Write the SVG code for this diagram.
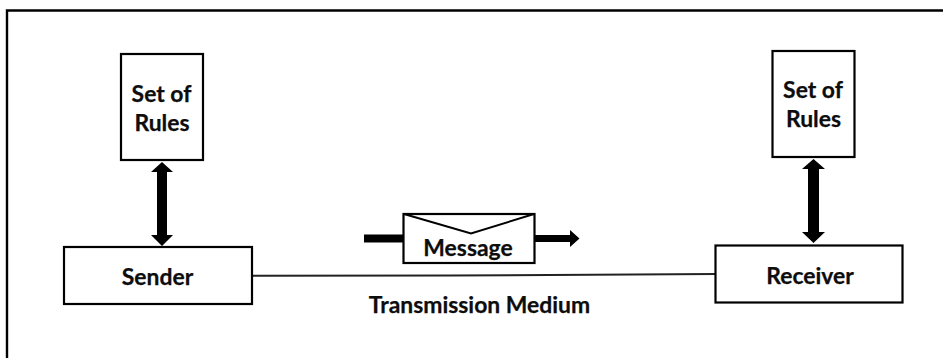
<svg xmlns="http://www.w3.org/2000/svg" width="943" height="358" viewBox="0 0 943 358">
<style>
.box{fill:#fff;stroke:#000;stroke-width:2.2}
.t{font-family:"Lato","Liberation Sans",sans-serif;font-weight:700;font-size:22.9px;fill:#0d0d0d;stroke:#0d0d0d;stroke-width:0.25;text-anchor:middle}
.arrow{fill:#000;stroke:none}
</style>
<rect width="943" height="358" fill="#fff"/>
<polyline id="frame" points="7,358 7,10.500 943,10.500" fill="none" stroke="#000" stroke-width="2.4"/>
<g id="connectors">
<polyline points="252,275.700 450,275.500 716,274" fill="none" stroke="#222" stroke-width="2"/>
<polygon class="arrow" points="162,162 173,172 167,172 167,235 173,235 162,246 151,235 157,235 157,172 151,172"/>
<polygon class="arrow" points="813.500,159 825,169 819,169 819,232 825,232 813.500,243 802,232 808,232 808,169 802,169"/>
<rect class="arrow" x="364" y="234.500" width="40" height="8"/>
<polygon class="arrow" points="534,235 570,235 570,230 579.500,238.500 570,247 570,242 534,242"/>
</g>
<g id="rules-left"><rect class="box" x="121" y="54" width="82" height="106"/><text class="t" x="161.500" y="102">Set of</text><text class="t" x="162" y="131">Rules</text></g>
<g id="rules-right"><rect class="box" x="772.500" y="51" width="82" height="106"/><text class="t" x="813" y="98">Set of</text><text class="t" x="813.500" y="127">Rules</text></g>
<g id="sender"><rect class="box" x="64" y="247" width="188" height="57"/><text class="t" x="157.500" y="284.500">Sender</text></g>
<g id="receiver"><rect class="box" x="715.500" y="245.500" width="187" height="57"/><text class="t" x="810" y="283.500">Receiver</text></g>
<g id="message"><rect class="box" x="403.500" y="214" width="131" height="49"/><polyline points="404,214 471,233.500 534,214" fill="none" stroke="#000" stroke-width="2"/><text class="t" x="468" y="255.500">Message</text></g>
<text id="medium" class="t" x="479.500" y="313">Transmission Medium</text>
</svg>
